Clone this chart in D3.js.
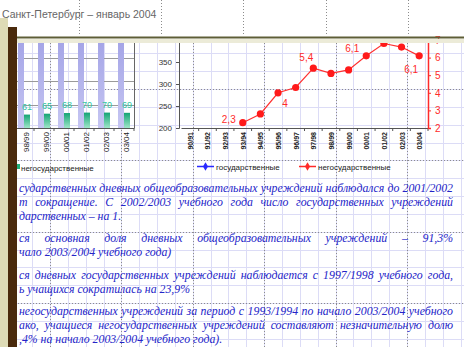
<!DOCTYPE html>
<html><head><meta charset="utf-8">
<script src="https://cdn.jsdelivr.net/npm/d3@7"></script>
<style>body{margin:0;background:#fff}svg{display:block}</style>
</head><body><svg id="c" width="464" height="347"></svg>
<script>
// ---- data ----
const titleText = "Санкт-Петербург – январь 2004";

// column chart: school years
const barYears = ["97/98", "98/99", "99/00", "00/01", "01/02", "02/03", "03/04"];
const stateSchools = [722, 718, 715, 712, 709, 708, 707];
const nonStateSchools = [51, 61, 65, 68, 70, 70, 69];

// line chart: share of non-state schools, %
const lineYears = ["90/91", "91/92", "92/93", "93/94", "94/95", "95/96", "96/97",
                   "97/98", "98/99", "99/00", "00/01", "01/02", "02/03", "03/04"];
const nonStateShare = [null, null, null, 2.3, 2.8, 4, 4.3, 5.4, 5.1, 5.3, 6.1, 6.8, 6.6, 6.1];
const labelledPoints = [3, 5, 7, 10, 13];
const leftTicks = [200, 250, 300, 350];
const rightTicks = [2, 3, 4, 5, 6, 7];
const legendNames = ["государственные", "негосударственные"];

// notes below the charts (j = stretch to right margin)
const notes = [
  {t: "сударственных дневных общеобразовательных учреждений наблюдался до 2001/2002", j: true},
  {t: "т сокращение. С 2002/2003 учебного года число государственных учреждений", j: true},
  {t: "дарственных – на 1.", j: false},
  {t: "ся основная доля дневных общеобразовательных учреждений – 91,3%", j: true},
  {t: "чало 2003/2004 учебного года)", j: false},
  {t: "ся дневных государственных учреждений наблюдается с 1997/1998 учебного года,", j: true},
  {t: "ь учащихся сократилась на 23,9%", j: false},
  {t: "негосударственных учреждений за период с 1993/1994 по начало 2003/2004 учебного", j: true},
  {t: "ако, учащиеся негосударственных учреждений составляют незначительную долю", j: true},
  {t: ",4% на начало 2003/2004  учебного года).", j: false}
];
const noteBaselines = [192, 206, 220, 242, 256, 279, 293, 315, 329, 343];

// ---- drawing ----
const W = 464, H = 347;
const svg = d3.select("#c");
const defs = svg.append("defs");

const gp = defs.append("linearGradient").attr("id", "gPurple").attr("x1", 0).attr("y1", 0).attr("x2", 0).attr("y2", 1);
gp.append("stop").attr("offset", "0%").attr("stop-color", "#8a8ade");
gp.append("stop").attr("offset", "100%").attr("stop-color", "#c6c6f2");
const gg = defs.append("linearGradient").attr("id", "gGreen").attr("x1", 0).attr("y1", 0).attr("x2", 0).attr("y2", 1);
gg.append("stop").attr("offset", "0%").attr("stop-color", "#14a474");
gg.append("stop").attr("offset", "100%").attr("stop-color", "#9fe6c8");

svg.append("rect").attr("width", W).attr("height", H).attr("fill", "#fff");

// graph-paper grid
const step = 71.4 / 4;
const grid = svg.append("g").attr("stroke", "#dcdcf6").attr("stroke-width", 1);
for (let x = 50 - step * 3; x < W; x += step)
  grid.append("line").attr("x1", Math.round(x) + 0.5).attr("x2", Math.round(x) + 0.5).attr("y1", 43).attr("y2", H);
for (let y = 89 - step * 2; y < H; y += step)
  grid.append("line").attr("y1", Math.round(y) + 0.5).attr("y2", Math.round(y) + 0.5).attr("x1", 0).attr("x2", W);

// dotted guides
const guides = svg.append("g").attr("stroke", "#8c8c8c").attr("stroke-width", 1).attr("stroke-dasharray", "1,2");
for (let x = 50; x < W; x += 71.4)
  guides.append("line").attr("x1", Math.round(x) + 0.5).attr("x2", Math.round(x) + 0.5).attr("y1", 43).attr("y2", H);
for (let y = 89; y < H; y += 71.4)
  guides.append("line").attr("y1", Math.round(y) + 0.5).attr("y2", Math.round(y) + 0.5).attr("x1", 0).attr("x2", W);
for (let x = 79; x < W; x += 82.2)
  guides.append("line").attr("x1", Math.round(x) + 0.5).attr("x2", Math.round(x) + 0.5).attr("y1", 0).attr("y2", 36);

// ---- column chart ----
const bTop = 40, bBottom = 128;
defs.append("clipPath").attr("id", "clipB").append("rect")
  .attr("x", -10).attr("y", bTop).attr("width", 150).attr("height", bBottom - bTop);
const xb = d3.scaleBand().domain(barYears).range([-6, 134]);
const xs = d3.scaleBand().domain(["s", "n"]).range([0, 12]);
const yb = d3.scaleLinear().domain([0, 400]).range([bBottom, bTop]);
const bc = svg.append("g");

bc.append("g").attr("stroke", "#9a9a9a")
  .selectAll("line").data([100, 200, 300]).join("line")
  .attr("x1", 17).attr("x2", 134)
  .attr("y1", d => Math.round(yb(d * 1.06)) + 0.5).attr("y2", d => Math.round(yb(d * 1.06)) + 0.5);

const groups = bc.append("g").attr("clip-path", "url(#clipB)")
  .selectAll("g").data(barYears).join("g")
  .attr("transform", d => `translate(${xb(d) + xb.bandwidth() / 2 - 6},0)`);
groups.append("rect").attr("x", xs("s")).attr("width", xs.bandwidth())
  .attr("y", (d, i) => yb(stateSchools[i])).attr("height", (d, i) => bBottom - yb(stateSchools[i]))
  .attr("fill", "url(#gPurple)");
groups.append("rect").attr("x", xs("n")).attr("width", xs.bandwidth())
  .attr("y", (d, i) => yb(nonStateSchools[i])).attr("height", (d, i) => bBottom - yb(nonStateSchools[i]))
  .attr("fill", "url(#gGreen)");
groups.append("text").attr("x", xs("n") + xs.bandwidth() / 2)
  .attr("y", (d, i) => yb(nonStateSchools[i]) - 5)
  .attr("text-anchor", "middle").attr("font-family", "Arial, Liberation Sans, sans-serif")
  .attr("font-size", 9).attr("fill", "#2fc8a2")
  .text((d, i) => nonStateSchools[i]);

const xbAxis = bc.append("g").attr("transform", `translate(0,${bBottom})`)
  .call(d3.axisBottom(xb).tickSize(0).tickFormat(""));
xbAxis.select(".domain").attr("stroke", "#555");
bc.append("g").attr("stroke", "#555").selectAll("line").data(barYears).join("line")
  .attr("x1", d => xb(d) + xb.bandwidth()).attr("x2", d => xb(d) + xb.bandwidth())
  .attr("y1", bBottom).attr("y2", bBottom + 3);
bc.append("line").attr("x1", 134.5).attr("x2", 134.5).attr("y1", bTop).attr("y2", bBottom).attr("stroke", "#666");
bc.append("g").selectAll("text").data(barYears).join("text")
  .attr("transform", d => `translate(${xb(d) + xb.bandwidth() / 2 + 5},132) rotate(-90)`)
  .attr("text-anchor", "end").attr("font-family", "Arial, Liberation Sans, sans-serif")
  .attr("font-size", 8).attr("fill", "#222").text(d => d);
bc.append("rect").attr("x", 15).attr("y", 164).attr("width", 5).attr("height", 5).attr("fill", "#1fb07a");
bc.append("text").attr("x", 21).attr("y", 170.5).attr("font-family", "Arial, Liberation Sans, sans-serif")
  .attr("font-size", 8).attr("fill", "#222").text(legendNames[1]);

// ---- line chart ----
const lTop = 40, lBottom = 128, lLeft = 179, lRight = 428;
const xl = d3.scaleBand().domain(lineYears).range([lLeft + 2, lRight]);
const cx = d => xl(d) + xl.bandwidth() / 2;
const yl = d3.scaleLinear().domain([200, 400]).range([lBottom, lTop]);
const yr = d3.scaleLinear().domain([2, 7]).range([lBottom, lTop]);
const lc = svg.append("g");

const la = lc.append("g").attr("transform", `translate(${lLeft},0)`)
  .call(d3.axisLeft(yl).tickValues(leftTicks).tickSize(3).tickPadding(4));
la.select(".domain").attr("stroke", "#555");
la.selectAll(".tick line").attr("stroke", "#555");
la.selectAll(".tick text").attr("font-family", "Arial, Liberation Sans, sans-serif").attr("font-size", 8).attr("fill", "#333");

const ba = lc.append("g").attr("transform", `translate(0,${lBottom})`)
  .call(d3.axisBottom(xl).tickSize(0).tickFormat(""));
ba.select(".domain").attr("stroke", "#555");
lc.append("g").attr("stroke", "#555").selectAll("line").data(lineYears).join("line")
  .attr("x1", d => xl(d) + xl.bandwidth()).attr("x2", d => xl(d) + xl.bandwidth())
  .attr("y1", lBottom).attr("y2", lBottom + 3);
lc.append("g").selectAll("text").data(lineYears).join("text")
  .attr("transform", d => `translate(${cx(d) + 3},132) rotate(-90)`)
  .attr("text-anchor", "end").attr("font-family", "Arial, Liberation Sans, sans-serif")
  .attr("font-size", 7).attr("font-weight", "bold").attr("fill", "#222").text(d => d);

const ra = lc.append("g").attr("transform", `translate(${lRight},0)`)
  .call(d3.axisRight(yr).tickValues(rightTicks).tickSize(3).tickPadding(4).tickFormat(d3.format("d")));
ra.select(".domain").attr("stroke", "#ff2a2a").attr("stroke-width", 1.5);
ra.selectAll(".tick line").attr("stroke", "#ff2a2a");
ra.selectAll(".tick text").attr("font-family", "Arial, Liberation Sans, sans-serif").attr("font-size", 10).attr("fill", "#ff2a2a");

const pts = lineYears.map((d, i) => ({d, v: nonStateShare[i], i})).filter(p => p.v != null);
lc.append("path").datum(pts)
  .attr("d", d3.line().x(p => cx(p.d)).y(p => yr(p.v)))
  .attr("fill", "none").attr("stroke", "#ff3030").attr("stroke-width", 1.2);
lc.append("g").selectAll("circle").data(pts).join("circle")
  .attr("cx", p => cx(p.d)).attr("cy", p => yr(p.v)).attr("r", 3.6).attr("fill", "#ff1a1a");

// placement of the value labels around their points
const labelPlace = {3: [-14, 0, "middle"], 5: [7, 14, "middle"], 7: [-7, -7, "middle"], 10: [-14, -4, "middle"], 13: [-8, 17, "middle"]};
const fmt = v => String(v).replace(".", ",");
lc.append("g").selectAll("text").data(labelledPoints).join("text")
  .attr("x", i => cx(lineYears[i]) + labelPlace[i][0])
  .attr("y", i => yr(nonStateShare[i]) + labelPlace[i][1])
  .attr("text-anchor", i => labelPlace[i][2])
  .attr("font-family", "Arial, Liberation Sans, sans-serif").attr("font-size", 10).attr("fill", "#ff2a2a")
  .text(i => fmt(nonStateShare[i]));

// legend
const lg = lc.append("g").attr("font-family", "Arial, Liberation Sans, sans-serif").attr("font-size", 8).attr("fill", "#222");
const legendItems = [{x: 197, c: "#2a2aff", name: legendNames[0]}, {x: 299, c: "#ff2a2a", name: legendNames[1]}];
legendItems.forEach(it => {
  lg.append("line").attr("x1", it.x).attr("x2", it.x + 17).attr("y1", 166.5).attr("y2", 166.5).attr("stroke", it.c).attr("stroke-width", 1.5);
  lg.append("path").attr("d", d3.symbol(d3.symbolDiamond, 22)()).attr("transform", `translate(${it.x + 8.5},166.5)`).attr("fill", it.c);
  lg.append("text").attr("x", it.x + 19).attr("y", 169.5).text(it.name);
});

// ---- notes (justified: widen word gaps, or squeeze a line that is too long) ----
const noteLeft = 19, noteRight = 453, noteWidth = noteRight - noteLeft;
const nt = svg.append("g").attr("font-family", "Liberation Serif, DejaVu Serif, serif")
  .attr("font-style", "italic").attr("font-size", 11.8).attr("fill", "#2424c8");
notes.forEach((n, i) => {
  const t = nt.append("text").attr("x", noteLeft).attr("y", noteBaselines[i]).text(n.t);
  if (n.j) {
    const w = t.node().getComputedTextLength();
    const gaps = (n.t.match(/ /g) || []).length;
    if (w >= noteWidth) t.attr("textLength", noteWidth).attr("lengthAdjust", "spacingAndGlyphs");
    else if (gaps > 0) t.attr("word-spacing", (noteWidth - w) / gaps);
  }
});

// ---- frame ----
svg.append("rect").attr("x", 17).attr("y", 39).attr("width", W - 17).attr("height", 4).attr("fill", "#ecebd8");
svg.append("line").attr("x1", 17).attr("x2", W).attr("y1", 37.5).attr("y2", 37.5).attr("stroke", "#5e5e36").attr("stroke-width", 2);
svg.append("rect").attr("x", 0).attr("y", 18).attr("width", 8).attr("height", H - 18).attr("fill", "#dedbb6");
svg.append("rect").attr("x", 8).attr("y", 27).attr("width", 9).attr("height", H - 27).attr("fill", "#4a2a0c");
svg.append("text").attr("x", 2).attr("y", 18).attr("font-family", "Arial, Liberation Sans, sans-serif")
  .attr("font-size", 10.5).attr("fill", "#666").text(titleText);
</script></body></html>
